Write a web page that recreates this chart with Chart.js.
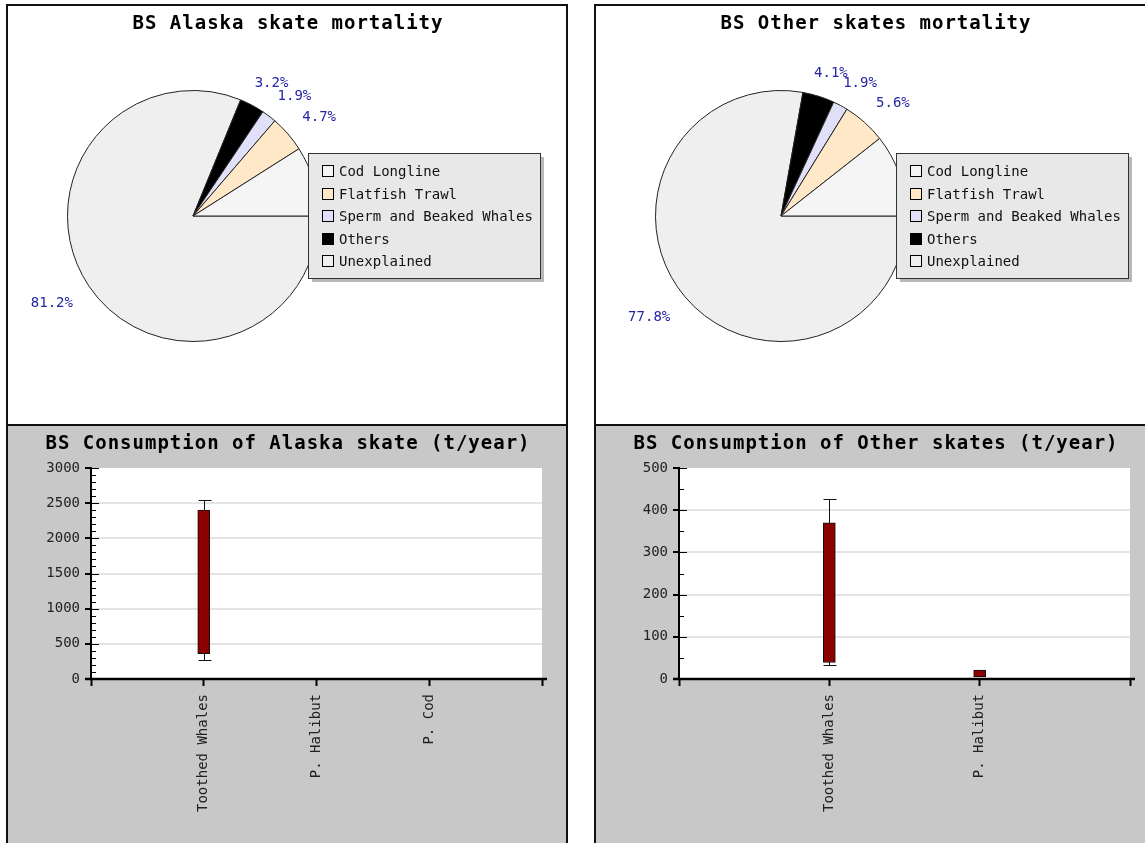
<!DOCTYPE html>
<html>
  <head>
    <title>BS skates</title>
    <script src="https://cdn.jsdelivr.net/npm/chart.js"></script>
    <style>
      body { margin: 0; background: #fff; overflow: hidden; width: 1145px; height: 843px; position: relative; }
      .panel { position: absolute; border: 2px solid #111; }
      .pie { top: 4px; width: 558px; height: 418px; background: #fff; }
      .bars { top: 426px; width: 558px; height: 420px; background: #c8c8c8; border-top: none; border-bottom: none; }
      .left { left: 6px; }
      .right { left: 594px; }
      canvas { display: block; }
    </style>
  </head>

  <body>
    <div class="panel pie left"><canvas id="alaskaPie" width="558" height="418"></canvas></div>
    <div class="panel pie right"><canvas id="otherPie" width="558" height="418"></canvas></div>
    <div class="panel bars left"><canvas id="alaskaBars" width="558" height="417"></canvas></div>
    <div class="panel bars right"><canvas id="otherBars" width="558" height="417"></canvas></div>

    <script>
      // mortality shares (%), legend order
      var mortLabels = ["Cod Longline", "Flatfish Trawl", "Sperm and Beaked Whales", "Others", "Unexplained"];
      var mortColors = ["#f5f5f5", "#ffe8c8", "#e0e0f8", "#000000", "#efefef"];
      var alaskaMortality = [9.0, 4.7, 1.9, 3.2, 81.2];
      var otherMortality = [10.6, 5.6, 1.9, 4.1, 77.8];

      // consumption (t/year): box = low/high, whiskers = min/max
      var alaskaPredators = ["Toothed Whales", "P. Halibut", "P. Cod"];
      var alaskaBoxLow = [360, null, null];
      var alaskaBoxHigh = [2400, null, null];
      var alaskaMin = [275, null, null];
      var alaskaMax = [2540, null, null];
      var alaskaTicks = [0, 500, 1000, 1500, 2000, 2500, 3000];

      var otherPredators = ["Toothed Whales", "P. Halibut"];
      var otherBoxLow = [39, 5];
      var otherBoxHigh = [370, 21];
      var otherMin = [33, null];
      var otherMax = [426, null];
      var otherTicks = [0, 100, 200, 300, 400, 500];

      var MONO = '"DejaVu Sans Mono", "Liberation Mono", monospace';

      var panelTitle = {
        id: "panelTitle",
        afterDraw: function (chart, args, opts) {
          var ctx = chart.ctx;
          ctx.save();
          ctx.font = "bold 19px " + MONO;
          ctx.letterSpacing = "1px";
          ctx.fillStyle = "#000";
          ctx.textAlign = "center";
          ctx.textBaseline = "alphabetic";
          ctx.fillText(opts.text, chart.width / 2 + 1, 23);
          ctx.restore();
        },
      };

      // percent labels placed like the old jpgraph pies
      var sliceLabels = {
        id: "sliceLabels",
        afterDatasetsDraw: function (chart) {
          var ctx = chart.ctx;
          var values = chart.data.datasets[0].data;
          var total = values.reduce(function (a, b) { return a + b; }, 0);
          var q = Math.PI / 4;
          ctx.save();
          ctx.font = "14px " + MONO;
          ctx.fillStyle = "#2424a4";
          ctx.textBaseline = "top";
          chart.getDatasetMeta(0).data.forEach(function (arc, i) {
            var p = arc.getProps(["x", "y", "startAngle", "endAngle", "outerRadius"]);
            var a = -(p.startAngle + p.endAngle) / 2;
            while (a < 0) a += 2 * Math.PI;
            while (a >= 2 * Math.PI) a -= 2 * Math.PI;
            var r = p.outerRadius + 19;
            var xt = p.x + r * Math.cos(a);
            var yt = p.y - r * Math.sin(a);
            var text = ((values[i] / total) * 100).toFixed(1) + "%";
            var w = ctx.measureText(text).width;
            var h = 14;
            var dx, dy;
            if (a <= q) { dx = 0; dy = 0.5 + (a * 2) / Math.PI; }
            else if (a <= 3 * q) { dx = ((a - q) * 2) / Math.PI; dy = 1; }
            else if (a <= 5 * q) { dx = 1; dy = 1 - ((a - 3 * q) * 2) / Math.PI; }
            else if (a <= 7 * q) { dx = 1 - ((a - 5 * q) * 2) / Math.PI; dy = 0; }
            else { dx = 0; dy = ((a - 7 * q) * 2) / Math.PI; }
            ctx.fillText(text, xt - dx * w, yt - dy * h + 2);
          });
          ctx.restore();
        },
      };

      var boxLegend = {
        id: "boxLegend",
        afterDraw: function (chart, args, opts) {
          var ctx = chart.ctx;
          var x = 300, y = 147, w = 232, h = 125;
          ctx.save();
          ctx.fillStyle = "#b8b8b8";
          ctx.fillRect(x + 4, y + 4, w, h);
          ctx.fillStyle = "#e8e8e8";
          ctx.fillRect(x, y, w, h);
          ctx.strokeStyle = "#333";
          ctx.lineWidth = 1;
          ctx.strokeRect(x + 0.5, y + 0.5, w, h);
          ctx.font = "14px " + MONO;
          ctx.textBaseline = "middle";
          opts.labels.forEach(function (label, i) {
            var cy = Math.round(y + 18 + i * 22.5);
            ctx.fillStyle = opts.colors[i];
            ctx.fillRect(x + 14, cy - 6, 12, 12);
            ctx.strokeStyle = "#000";
            ctx.strokeRect(x + 14.5, cy - 5.5, 11, 11);
            ctx.fillStyle = "#111";
            ctx.fillText(label, x + 31, cy + 1);
          });
          ctx.restore();
        },
      };

      function pieChart(id, title, values) {
        return new Chart(document.getElementById(id), {
          type: "pie",
          data: {
            labels: mortLabels.slice().reverse(),
            datasets: [
              {
                data: values.slice().reverse(),
                backgroundColor: mortColors.slice().reverse(),
                borderColor: "#222",
                borderWidth: 1,
              },
            ],
          },
          options: {
            responsive: false,
            animation: false,
            events: [],
            rotation: 90,
            layout: { padding: { left: 59, top: 84, right: 247, bottom: 82 } },
            plugins: {
              legend: { display: false },
              tooltip: { enabled: false },
              panelTitle: { text: title },
              boxLegend: { labels: mortLabels, colors: mortColors },
            },
          },
          plugins: [panelTitle, sliceLabels, boxLegend],
        });
      }

      var boxExtras = {
        id: "boxExtras",
        beforeDraw: function (chart) {
          var a = chart.chartArea;
          chart.ctx.save();
          chart.ctx.fillStyle = "#fff";
          chart.ctx.fillRect(a.left, a.top, a.right - a.left, a.bottom - a.top);
          chart.ctx.restore();
        },
        beforeDatasetsDraw: function (chart, args, opts) {
          var xs = chart.scales.x, ys = chart.scales.y, ctx = chart.ctx;
          ctx.save();
          ctx.strokeStyle = "#111";
          ctx.lineWidth = 1;
          opts.min.forEach(function (lo, i) {
            if (lo == null) return;
            var x = Math.round(xs.getPixelForValue(i + 1)) + 0.5;
            var y1 = Math.round(ys.getPixelForValue(lo)) + 0.5;
            var y2 = Math.round(ys.getPixelForValue(opts.max[i])) + 0.5;
            ctx.beginPath();
            ctx.moveTo(x, y1); ctx.lineTo(x, y2);
            ctx.moveTo(x - 6, y1); ctx.lineTo(x + 7, y1);
            ctx.moveTo(x - 6, y2); ctx.lineTo(x + 7, y2);
            ctx.stroke();
          });
          ctx.restore();
        },
        afterDraw: function (chart, args, opts) {
          var ys = chart.scales.y, a = chart.chartArea, ctx = chart.ctx;
          ctx.save();
          ctx.strokeStyle = "#000";
          ctx.lineWidth = 1;
          ctx.beginPath();
          for (var v = ys.min; v <= ys.max; v += opts.minor) {
            var y = Math.round(ys.getPixelForValue(v)) + 0.5;
            var len = v % opts.major === 0 ? 8 : 5;
            ctx.moveTo(a.left, y);
            ctx.lineTo(a.left + len, y);
          }
          ctx.stroke();
          ctx.lineWidth = 2.5;
          ctx.beginPath();
          ctx.moveTo(a.left - 6, a.bottom);
          ctx.lineTo(a.right + 5, a.bottom);
          ctx.stroke();
          ctx.restore();
        },
      };

      function boxChart(id, title, cats, boxLow, boxHigh, min, max, ticks, minor) {
        var points = [];
        cats.forEach(function (c, i) {
          if (boxLow[i] != null) points.push({ x: i + 1, y: [boxLow[i], boxHigh[i]] });
        });
        var top = ticks[ticks.length - 1];
        return new Chart(document.getElementById(id), {
          type: "bar",
          data: {
            datasets: [
              {
                data: points,
                backgroundColor: "#8b0000",
                borderColor: "#111",
                borderWidth: 1,
                borderSkipped: false,
                barThickness: 12,
              },
            ],
          },
          options: {
            responsive: false,
            animation: false,
            events: [],
            layout: { padding: { left: 0, top: 42, right: 24, bottom: 0 } },
            scales: {
              x: {
                type: "linear",
                min: 0,
                max: cats.length + 1,
                offset: false,
                afterFit: function (s) { s.height = 164; s.paddingLeft = 0; s.paddingRight = 0; },
                afterBuildTicks: function (s) {
                  s.ticks = [];
                  for (var k = 0; k <= cats.length + 1; k++) s.ticks.push({ value: k });
                },
                ticks: {
                  autoSkip: false,
                  minRotation: 90,
                  maxRotation: 90,
                  padding: 8,
                  color: "#222",
                  font: { family: MONO, size: 14 },
                  callback: function (v) { return cats[v - 1] || ""; },
                },
                grid: { offset: false, drawOnChartArea: false, tickLength: 7, tickColor: "#000", tickWidth: 2 },
                border: { display: false },
              },
              y: {
                min: ticks[0],
                max: top,
                afterFit: function (s) { s.width = 83; },
                afterBuildTicks: function (s) {
                  s.ticks = ticks.map(function (t) { return { value: t }; });
                },
                ticks: {
                  padding: 5,
                  color: "#222",
                  font: { family: MONO, size: 14 },
                  callback: function (v) { return String(v); },
                },
                grid: {
                  color: function (c) {
                    return c.tick && (c.tick.value === ticks[0] || c.tick.value === top) ? "rgba(0,0,0,0)" : "#e4e4e4";
                  },
                  lineWidth: 2,
                  tickColor: "#000",
                  tickLength: 6,
                  tickWidth: 2,
                },
                border: { color: "#000", width: 2 },
              },
            },
            plugins: {
              legend: { display: false },
              tooltip: { enabled: false },
              panelTitle: { text: title },
              boxExtras: { min: min, max: max, minor: minor, major: ticks[1] - ticks[0] },
            },
          },
          plugins: [panelTitle, boxExtras],
        });
      }

      pieChart("alaskaPie", "BS Alaska skate mortality", alaskaMortality);
      pieChart("otherPie", "BS Other skates mortality", otherMortality);
      boxChart("alaskaBars", "BS Consumption of Alaska skate (t/year)", alaskaPredators,
        alaskaBoxLow, alaskaBoxHigh, alaskaMin, alaskaMax, alaskaTicks, 100);
      boxChart("otherBars", "BS Consumption of Other skates (t/year)", otherPredators,
        otherBoxLow, otherBoxHigh, otherMin, otherMax, otherTicks, 50);
    </script>
  </body>
</html>
